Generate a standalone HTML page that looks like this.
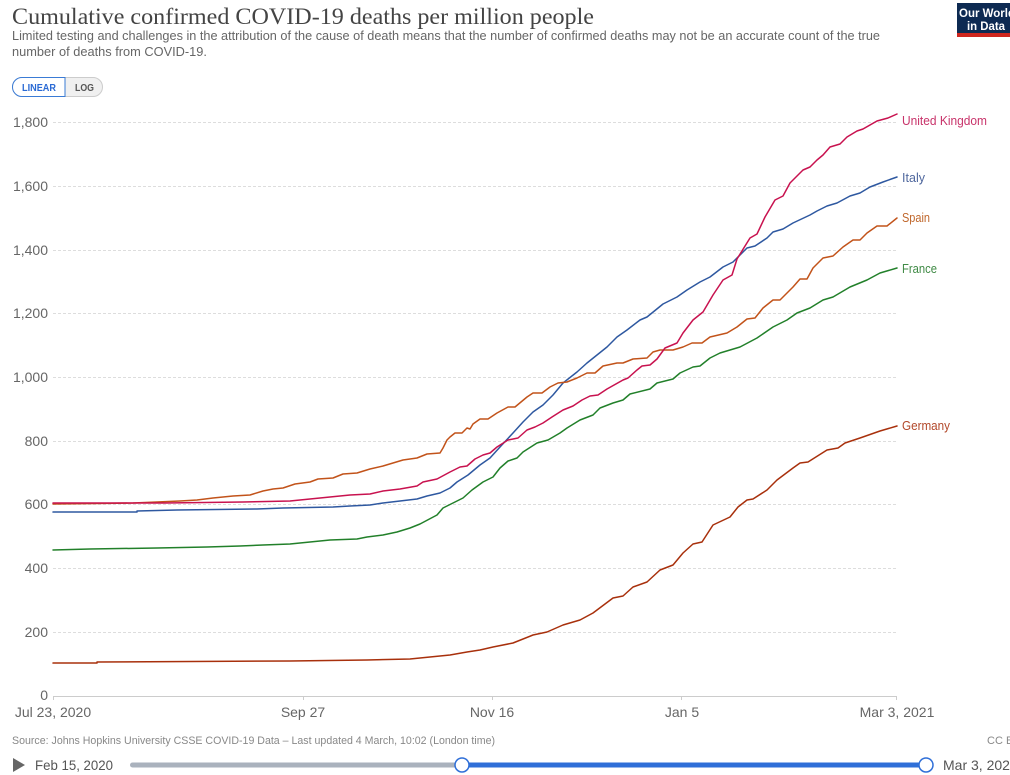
<!DOCTYPE html>
<html><head><meta charset="utf-8"><style>
html,body{margin:0;padding:0;background:#fff;width:1010px;height:775px;overflow:hidden}
svg{display:block}
text{font-family:"Liberation Sans",sans-serif}
text.serif{font-family:"Liberation Serif",serif}
</style></head><body>
<svg width="1010" height="775" viewBox="0 0 1010 775" xmlns="http://www.w3.org/2000/svg">
<!-- Title -->
<text class="serif" x="12" y="24" style="font-family:'Liberation Serif',serif" font-size="23" fill="#444" textLength="582" lengthAdjust="spacingAndGlyphs">Cumulative confirmed COVID-19 deaths per million people</text>
<text x="12" y="40" font-size="13" fill="#666" textLength="868" lengthAdjust="spacingAndGlyphs">Limited testing and challenges in the attribution of the cause of death means that the number of confirmed deaths may not be an accurate count of the true</text>
<text x="12" y="56" font-size="13" fill="#666" textLength="195" lengthAdjust="spacingAndGlyphs">number of deaths from COVID-19.</text>

<!-- Logo -->
<rect x="957" y="3" width="60" height="34" fill="#0d2a52"/>
<rect x="957" y="33" width="60" height="4" fill="#ce261e"/>
<text x="959" y="17" font-size="12" font-weight="bold" fill="#fff" textLength="56" lengthAdjust="spacingAndGlyphs">Our World</text>
<text x="967" y="30" font-size="12" font-weight="bold" fill="#fff" textLength="38" lengthAdjust="spacingAndGlyphs">in Data</text>

<!-- Buttons -->
<rect x="12.5" y="77.5" width="90" height="19" rx="9.5" fill="#f0f0f0" stroke="#ccc"/>
<path d="M65 77.5 H22 A9.5 9.5 0 0 0 22 96.5 H65 Z" fill="#fff" stroke="#3a7bd5"/>
<text x="22" y="91" font-size="10" font-weight="bold" fill="#2a6ad4" textLength="34" lengthAdjust="spacingAndGlyphs">LINEAR</text>
<text x="75" y="91" font-size="10" font-weight="bold" fill="#555" textLength="19" lengthAdjust="spacingAndGlyphs">LOG</text>

<!-- Grid -->
<g stroke="#ddd" stroke-width="1" stroke-dasharray="3,2">
<line x1="53" y1="122.5" x2="897" y2="122.5"/>
<line x1="53" y1="186.5" x2="897" y2="186.5"/>
<line x1="53" y1="250.5" x2="897" y2="250.5"/>
<line x1="53" y1="313.5" x2="897" y2="313.5"/>
<line x1="53" y1="377.5" x2="897" y2="377.5"/>
<line x1="53" y1="441.5" x2="897" y2="441.5"/>
<line x1="53" y1="504.5" x2="897" y2="504.5"/>
<line x1="53" y1="568.5" x2="897" y2="568.5"/>
<line x1="53" y1="632.5" x2="897" y2="632.5"/>
</g>
<line x1="53" y1="696.5" x2="897" y2="696.5" stroke="#ccc"/>
<g stroke="#ccc">
<line x1="53.5" y1="696" x2="53.5" y2="700"/>
<line x1="303.5" y1="696" x2="303.5" y2="700"/>
<line x1="492.5" y1="696" x2="492.5" y2="700"/>
<line x1="681.5" y1="696" x2="681.5" y2="700"/>
<line x1="896.5" y1="696" x2="896.5" y2="700"/>
</g>

<!-- Y labels -->
<g font-size="14" fill="#666" text-anchor="end">
<text x="48" y="127">1,800</text>
<text x="48" y="191">1,600</text>
<text x="48" y="255">1,400</text>
<text x="48" y="318">1,200</text>
<text x="48" y="382">1,000</text>
<text x="48" y="446">800</text>
<text x="48" y="509">600</text>
<text x="48" y="573">400</text>
<text x="48" y="637">200</text>
<text x="48" y="700">0</text>
</g>
<!-- X labels -->
<g font-size="14" fill="#666" text-anchor="middle">
<text x="53" y="717">Jul 23, 2020</text>
<text x="303" y="717">Sep 27</text>
<text x="492" y="717">Nov 16</text>
<text x="682" y="717">Jan 5</text>
<text x="897" y="717">Mar 3, 2021</text>
</g>

<!-- Series -->
<g fill="none" stroke-width="1.5" stroke-linejoin="round" stroke-linecap="round">
<polyline stroke="#a8300c" points="53,663 97,663 97,662 290,661 367,660 410,659 430,657 450,655 467,652 480,650 493,647 513,643 533,635 547,632 563,625 580,620 593,613 613,598 623,596 633,587 647,582 660,570 673,565 683,553 693,544 702,542 713,525 730,517 738,507 747,500 753,499 767,490 777,480 793,468 800,463 808,462 827,450 838,448 845,443 860,438 880,431 897,426"/>
<polyline stroke="#22802a" points="53,550 90,549 157,548 207,547 240,546 263,545 290,544 310,542 330,540 357,539 367,537 383,535 397,532 410,528 420,524 437,515 443,508 457,501 463,498 472,490 483,482 493,477 500,468 508,461 517,458 523,452 537,443 548,440 560,433 567,428 580,420 593,415 600,408 613,403 623,400 630,394 650,389 657,383 673,379 680,373 693,367 700,366 710,358 720,353 740,347 757,338 773,327 787,320 797,313 810,308 823,300 833,297 850,287 867,280 880,273 897,268"/>
<polyline stroke="#2e58a0" points="53,512 137,512 137,511 177,510 257,509 283,508 333,507 350,506 370,505 383,503 400,501 417,499 427,496 440,493 450,488 457,482 468,475 480,465 490,458 500,447 513,433 523,422 533,412 543,405 553,395 563,383 577,372 587,363 597,355 607,347 617,337 627,330 640,320 647,317 663,304 677,297 687,290 700,282 710,277 723,267 733,262 747,248 755,246 767,238 773,232 783,229 793,223 810,215 817,211 827,206 837,203 850,196 860,193 870,187 883,182 897,177"/>
<polyline stroke="#c2531a" points="53,504 133,503 157,502 180,501 197,500 213,498 233,496 250,495 263,491 273,489 283,488 295,484 310,482 318,479 333,478 343,474 357,473 370,469 383,466 393,463 403,460 417,458 427,454 440,453 443,448 447,440 450,437 455,433 462,433 467,428 470,429 473,424 480,419 488,419 497,413 508,407 515,407 527,397 533,393 542,393 550,387 558,383 567,382 577,378 587,373 595,373 603,366 617,363 623,363 633,359 647,358 653,352 660,350 673,350 683,347 692,343 702,343 710,337 727,333 737,327 747,319 755,318 763,308 773,300 780,300 793,287 800,279 807,279 813,268 823,258 833,256 843,247 853,240 860,240 867,233 877,226 887,226 897,218"/>
<polyline stroke="#c8124f" points="53,503 165,503 243,502 290,501 310,499 330,497 350,495 370,494 383,491 400,489 417,486 423,482 437,479 450,472 460,467 467,466 475,459 483,455 490,453 497,447 508,440 518,438 527,430 535,427 543,423 552,417 563,410 573,406 582,400 590,396 598,395 607,389 623,380 628,378 637,370 642,366 650,365 657,359 665,348 677,343 683,333 693,320 703,312 713,295 723,280 732,275 737,259 750,238 757,234 765,217 775,200 783,196 790,183 803,170 810,167 817,160 823,155 830,147 840,144 847,137 857,131 863,129 877,121 888,118 897,114"/>
</g>

<!-- Series labels -->
<g font-size="13">
<text x="902" y="125" fill="#c8336a" textLength="85" lengthAdjust="spacingAndGlyphs">United Kingdom</text>
<text x="902" y="182" fill="#50689e" textLength="23" lengthAdjust="spacingAndGlyphs">Italy</text>
<text x="902" y="222" fill="#c0672c" textLength="28" lengthAdjust="spacingAndGlyphs">Spain</text>
<text x="902" y="273" fill="#3f8a45" textLength="35" lengthAdjust="spacingAndGlyphs">France</text>
<text x="902" y="430" fill="#b2482a" textLength="48" lengthAdjust="spacingAndGlyphs">Germany</text>
</g>

<!-- Footer -->
<text x="12" y="744" font-size="11" fill="#888" textLength="483" lengthAdjust="spacingAndGlyphs">Source: Johns Hopkins University CSSE COVID-19 Data – Last updated 4 March, 10:02 (London time)</text>
<text x="987" y="744" font-size="11" fill="#888">CC BY</text>

<!-- Timeline -->
<polygon points="13,758 13,772 25,765" fill="#666"/>
<text x="35" y="770" font-size="14" fill="#555" textLength="78" lengthAdjust="spacingAndGlyphs">Feb 15, 2020</text>
<rect x="130" y="762.5" width="332" height="5" rx="2.5" fill="#aab2bd"/>
<rect x="462" y="762.5" width="464" height="5" fill="#2f6fd8"/>
<circle cx="462" cy="765" r="7" fill="#fff" stroke="#2f6fd8" stroke-width="1.5"/>
<circle cx="926" cy="765" r="7" fill="#fff" stroke="#2f6fd8" stroke-width="1.5"/>
<text x="943" y="770" font-size="14" fill="#555">Mar 3, 2021</text>
</svg>
</body></html>
